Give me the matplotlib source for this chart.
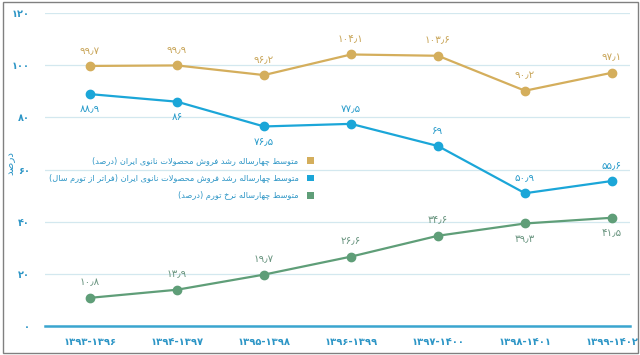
import matplotlib
matplotlib.use("Agg")
import matplotlib.pyplot as plt
from matplotlib.patches import Patch, Rectangle
from matplotlib.ticker import FuncFormatter

plt.rcParams['font.family'] = ['DejaVu Sans']

# ---------------- data ----------------
periods = ["۱۳۹۳-۱۳۹۶", "۱۳۹۴-۱۳۹۷", "۱۳۹۵-۱۳۹۸", "۱۳۹۶-۱۳۹۹",
           "۱۳۹۷-۱۴۰۰", "۱۳۹۸-۱۴۰۱", "۱۳۹۹-۱۴۰۲"]
sales_growth = [99.7, 99.9, 96.2, 104.1, 103.6, 90.2, 97.1]
real_growth = [88.9, 86, 76.5, 77.5, 69, 50.9, 55.6]
inflation = [10.8, 13.9, 19.7, 26.6, 34.6, 39.3, 41.5]
series_names = [
    "متوسط چهارساله رشد فروش محصولات نانوی ایران (درصد)",
    "متوسط چهارساله رشد فروش محصولات نانوی ایران (فراتر از تورم سال)",
    "متوسط چهارساله نرخ تورم (درصد)",
]
y_label = "درصد"
y_ticks = [0, 20, 40, 60, 80, 100, 120]

# label placement (style)
gold_pos = ['a'] * 7
blue_pos = ['b', 'b', 'b', 'a', 'a', 'a', 'a']
green_pos = ['a', 'a', 'a', 'a', 'a', 'b', 'b']

# ---------------- Persian shaping helpers ----------------
FORMS = {
    'ا': ('\uFE8D', '\uFE8E', None, None),
    'ت': ('\uFE95', '\uFE96', '\uFE97', '\uFE98'),
    'ح': ('\uFEA1', '\uFEA2', '\uFEA3', '\uFEA4'),
    'خ': ('\uFEA5', '\uFEA6', '\uFEA7', '\uFEA8'),
    'د': ('\uFEA9', '\uFEAA', None, None),
    'ر': ('\uFEAD', '\uFEAE', None, None),
    'ز': ('\uFEAF', '\uFEB0', None, None),
    'س': ('\uFEB1', '\uFEB2', '\uFEB3', '\uFEB4'),
    'ش': ('\uFEB5', '\uFEB6', '\uFEB7', '\uFEB8'),
    'ص': ('\uFEB9', '\uFEBA', '\uFEBB', '\uFEBC'),
    'ط': ('\uFEC1', '\uFEC2', '\uFEC3', '\uFEC4'),
    'ف': ('\uFED1', '\uFED2', '\uFED3', '\uFED4'),
    'ل': ('\uFEDD', '\uFEDE', '\uFEDF', '\uFEE0'),
    'م': ('\uFEE1', '\uFEE2', '\uFEE3', '\uFEE4'),
    'ن': ('\uFEE5', '\uFEE6', '\uFEE7', '\uFEE8'),
    'ه': ('\uFEE9', '\uFEEA', '\uFEEB', '\uFEEC'),
    'و': ('\uFEED', '\uFEEE', None, None),
    'ی': ('\uFEEF', '\uFEF0', '\uFEF3', '\uFEF4'),
    'چ': ('\uFB7A', '\uFB7B', '\uFB7C', '\uFB7D'),
}


def fa_display(s):
    out = []
    i, n = 0, len(s)
    while i < n:
        c = s[i]
        if c in FORMS:
            prev = s[i - 1] if i > 0 else ''
            jp = prev in FORMS and FORMS[prev][2] is not None
            if c == 'ل' and i + 1 < n and s[i + 1] == 'ا':
                out.append('\uFEFC' if jp else '\uFEFB')
                i += 2
                continue
            nxt = s[i + 1] if i + 1 < n else ''
            iso, fin, ini, med = FORMS[c]
            jn = ini is not None and nxt in FORMS
            out.append(med if (jp and jn) else fin if jp else ini if jn else iso)
        else:
            out.append(c)
        i += 1
    mirror = {'(': ')', ')': '('}
    return ''.join(mirror.get(c, c) for c in reversed(out))


FA_DIGITS = str.maketrans('0123456789.', '۰۱۲۳۴۵۶۷۸۹٫')


def fa_num(v):
    return ('{:g}'.format(v)).translate(FA_DIGITS)


# ---------------- plot ----------------
GOLD = '#D4AE5C'
BLUE = '#1BA6D8'
GREEN = '#5F9E78'
TXT_BLUE = '#2E96C6'

fig = plt.figure(figsize=(6.4, 3.55), dpi=100)
ax = fig.add_axes([45 / 640, 29 / 355, 585 / 640, 313 / 355])

x = list(range(len(periods)))
for vals, col, pos, lcol in [(sales_growth, GOLD, gold_pos, '#C9A65A'),
                             (real_growth, BLUE, blue_pos, '#2A9CCB'),
                             (inflation, GREEN, green_pos, '#6A9580')]:
    ax.plot(x, vals, color=col, lw=1.6, marker='o', ms=6, zorder=3)
    for xi, v, p in zip(x, vals, pos):
        off = 11 if p == 'a' else -11
        ax.annotate(fa_num(v), (xi, v), xytext=(0, off), textcoords='offset points',
                    ha='center', va='center', fontsize=7.5, color=lcol)

ax.set_xlim(-0.517, 6.207)
ax.set_ylim(0, 120)
ax.set_yticks(y_ticks)
ax.yaxis.set_major_formatter(FuncFormatter(lambda v, p: fa_num(v)))
ax.set_xticks(x)
ax.set_xticklabels(periods, fontweight='bold')
for t in ax.get_yticklabels():
    t.set_fontweight('bold')
ax.tick_params(axis='both', length=0)
ax.tick_params(axis='y', pad=11, labelsize=7, labelcolor=TXT_BLUE)
ax.tick_params(axis='x', pad=8, labelsize=7.2, labelcolor=TXT_BLUE)
for s in ['top', 'right', 'left']:
    ax.spines[s].set_visible(False)
ax.spines['bottom'].set_color('#3AA5CF')
ax.spines['bottom'].set_linewidth(1.8)
ax.grid(axis='y', color='#D3E8EF', lw=0.9)
ax.set_axisbelow(True)

fig.text(10 / 640, 1 - 163 / 355, fa_display(y_label), rotation=90, ha='center',
         va='center', fontsize=7.5, color=TXT_BLUE)

handles = [Patch(facecolor=c, edgecolor='none') for c in (GOLD, BLUE, GREEN)]
ax.legend(handles, [fa_display(s) for s in series_names], loc='center right',
          bbox_to_anchor=(0.467, 0.472), frameon=False, markerfirst=False,
          fontsize=5.9, labelcolor=TXT_BLUE, handlelength=0.9, handleheight=0.9,
          handletextpad=1.0, labelspacing=1.0, borderpad=0)

fig.patches.append(Rectangle((3 / 640, 2 / 355), 635 / 640, 351 / 355,
                             transform=fig.transFigure, fill=False,
                             edgecolor='#808080', lw=1))

fig.savefig('out.png', dpi=100)
